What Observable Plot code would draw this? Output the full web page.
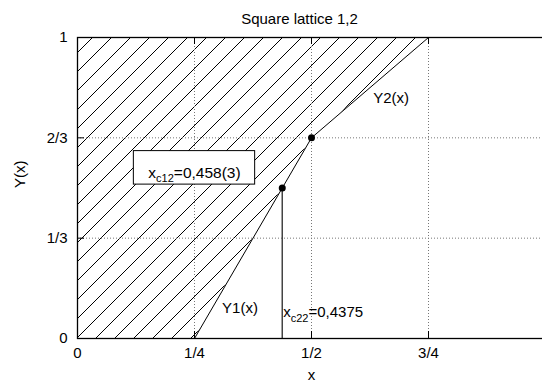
<!DOCTYPE html>
<html>
<head>
<meta charset="utf-8">
<script src="https://cdn.jsdelivr.net/npm/d3@7"></script>
<script src="https://cdn.jsdelivr.net/npm/@observablehq/plot@0.6"></script>
<style>
  html, body { margin: 0; padding: 0; background: #fff; overflow: hidden; }
  #chart svg { display: block; }
</style>
</head>
<body>
<div id="chart"></div>
<script>
const titleText = "Square lattice 1,2";
const xAxisLabel = "x";
const yAxisLabel = "Y(x)";
const xTicks = [0, 0.25, 0.5, 0.75];
const xTickLabels = ["0", "1/4", "1/2", "3/4"];
const yTicks = [0, 1/3, 2/3, 1];
const yTickLabels = ["0", "1/3", "2/3", "1"];
const xGrid = [0.25, 0.5, 0.75];
const yGrid = [1/3, 2/3];
const y1Curve = [{x: 0.25, y: 0}, {x: 0.4375, y: 0.5}, {x: 0.5, y: 2/3}];
const y2Curve = [{x: 0.5, y: 2/3}, {x: 0.75, y: 1}];
const hatchBoundary = [{x: 0.25, y: 0}, {x: 0.5, y: 2/3}, {x: 0.75, y: 1}];
const criticalPoints = [{x: 0.4375, y: 0.5}, {x: 0.5, y: 2/3}];
const xc22 = 0.4375;
const xc22Top = 0.5;
const curveLabels = [
  {x: 0.309, y: 0.10, text: "Y1(x)"},
  {x: 0.632, y: 0.797, text: "Y2(x)"}
];
const xc22Label = [{x: 0.4375, y: 0.087, text: "x_c22=0,4375"}];
const xc12Label = [{x: 0.25, y: 0.551, text: "x_c12=0,458(3)"}];

const font = "'Liberation Sans', Arial, Helvetica, sans-serif";

const svg = Plot.plot({
  width: 542,
  height: 385,
  marginLeft: 77,
  marginRight: -3,
  marginTop: 37,
  marginBottom: 47,
  style: {fontFamily: font, fontSize: "15px", color: "black", background: "white"},
  x: {domain: [0, 1]},
  y: {domain: [0, 1]},
  marks: [
    Plot.areaX(hatchBoundary, {x1: 0, x2: "x", y: "y", fill: "url(#hatch)"}),
    Plot.ruleX(xGrid, {stroke: "#777", strokeWidth: 1, strokeDasharray: "1,2"}),
    Plot.ruleY(yGrid, {stroke: "#777", strokeWidth: 1, strokeDasharray: "1,2"}),
    // inward tick marks (bottom, top, left)
    Plot.ruleX(xTicks, {y1: 0, y2: 0, insetTop: -7, stroke: "black"}),
    Plot.ruleX(xTicks, {y1: 1, y2: 1, insetBottom: -7, stroke: "black"}),
    Plot.ruleY(yTicks, {x1: 0, x2: 0, insetRight: -7, stroke: "black"}),
    Plot.line(y1Curve, {x: "x", y: "y", stroke: "black", strokeWidth: 1}),
    Plot.line(y2Curve, {x: "x", y: "y", stroke: "black", strokeWidth: 1}),
    Plot.ruleX([xc22], {y1: 0, y2: xc22Top, stroke: "#444", strokeWidth: 1.5}),
    Plot.dot(criticalPoints, {x: "x", y: "y", r: 3.5, fill: "black", stroke: "none"}),
    Plot.frame({stroke: "black", strokeWidth: 1.3}),
    Plot.axisX({ticks: xTicks, tickFormat: d => xTickLabels[xTicks.indexOf(d)], tickSize: 0, tickPadding: 9, label: null, fontSize: 15}),
    Plot.axisY({ticks: yTicks, tickFormat: d => yTickLabels[yTicks.indexOf(d)], tickSize: 0, tickPadding: 10, label: null, fontSize: 15}),
    Plot.text(curveLabels, {x: "x", y: "y", text: "text", textAnchor: "start", fontSize: 15}),
    Plot.text(xc22Label, {x: "x", y: "y", text: "text", textAnchor: "start", dx: 1, fontSize: 15, className: "sublabel"}),
    Plot.text(xc12Label, {x: "x", y: "y", text: "text", textAnchor: "middle", fontSize: 15.5, className: "boxlabel"}),
    Plot.text([titleText], {frameAnchor: "top", dy: -24, dx: -12, text: d => d, fontSize: 15}),
    Plot.text([xAxisLabel], {frameAnchor: "bottom", dy: 41, text: d => d, fontSize: 15}),
    Plot.text([yAxisLabel], {frameAnchor: "left", dx: -57, rotate: -90, text: d => d, fontSize: 15})
  ]
});

// hatch pattern
const ns = "http://www.w3.org/2000/svg";
const defs = document.createElementNS(ns, "defs");
const pat = document.createElementNS(ns, "pattern");
pat.setAttribute("id", "hatch");
pat.setAttribute("patternUnits", "userSpaceOnUse");
pat.setAttribute("x", "16");
pat.setAttribute("y", "0");
pat.setAttribute("width", "19");
pat.setAttribute("height", "19");
const bg = document.createElementNS(ns, "rect");
bg.setAttribute("width", "19"); bg.setAttribute("height", "19"); bg.setAttribute("fill", "white");
pat.appendChild(bg);
const hp = document.createElementNS(ns, "path");
hp.setAttribute("d", "M0,19L19,0M-2,2L2,-2M17,21L21,17");
hp.setAttribute("stroke", "black");
hp.setAttribute("stroke-width", "1");
pat.appendChild(hp);
defs.appendChild(pat);
svg.insertBefore(defs, svg.firstChild);

document.getElementById("chart").appendChild(svg);

// subscripts
function subscriptify(textEl) {
  const s = textEl.textContent;
  const m = s.match(/^(.*?)_([a-z0-9]+)(.*)$/);
  if (!m) return;
  while (textEl.firstChild) textEl.removeChild(textEl.firstChild);
  const t1 = document.createElementNS(ns, "tspan"); t1.textContent = m[1];
  const t2 = document.createElementNS(ns, "tspan"); t2.textContent = m[2];
  t2.setAttribute("dy", "4.5"); t2.setAttribute("font-size", "11");
  const t3 = document.createElementNS(ns, "tspan"); t3.textContent = m[3];
  t3.setAttribute("dy", "-4.5");
  textEl.append(t1, t2, t3);
}
svg.querySelectorAll(".sublabel text, .boxlabel text").forEach(subscriptify);

// box around xc12 label
svg.querySelectorAll(".boxlabel text").forEach(t => {
  const bb = t.getBBox();
  const r = document.createElementNS(ns, "rect");
  r.setAttribute("x", bb.x - 15);
  r.setAttribute("y", bb.y - 13);
  r.setAttribute("width", bb.width + 29);
  r.setAttribute("height", bb.height + 13);
  r.setAttribute("fill", "white");
  r.setAttribute("stroke", "black");
  r.setAttribute("stroke-width", "1");
  if (t.getAttribute("transform")) r.setAttribute("transform", t.getAttribute("transform"));
  t.parentNode.insertBefore(r, t);
});
</script>
</body>
</html>
